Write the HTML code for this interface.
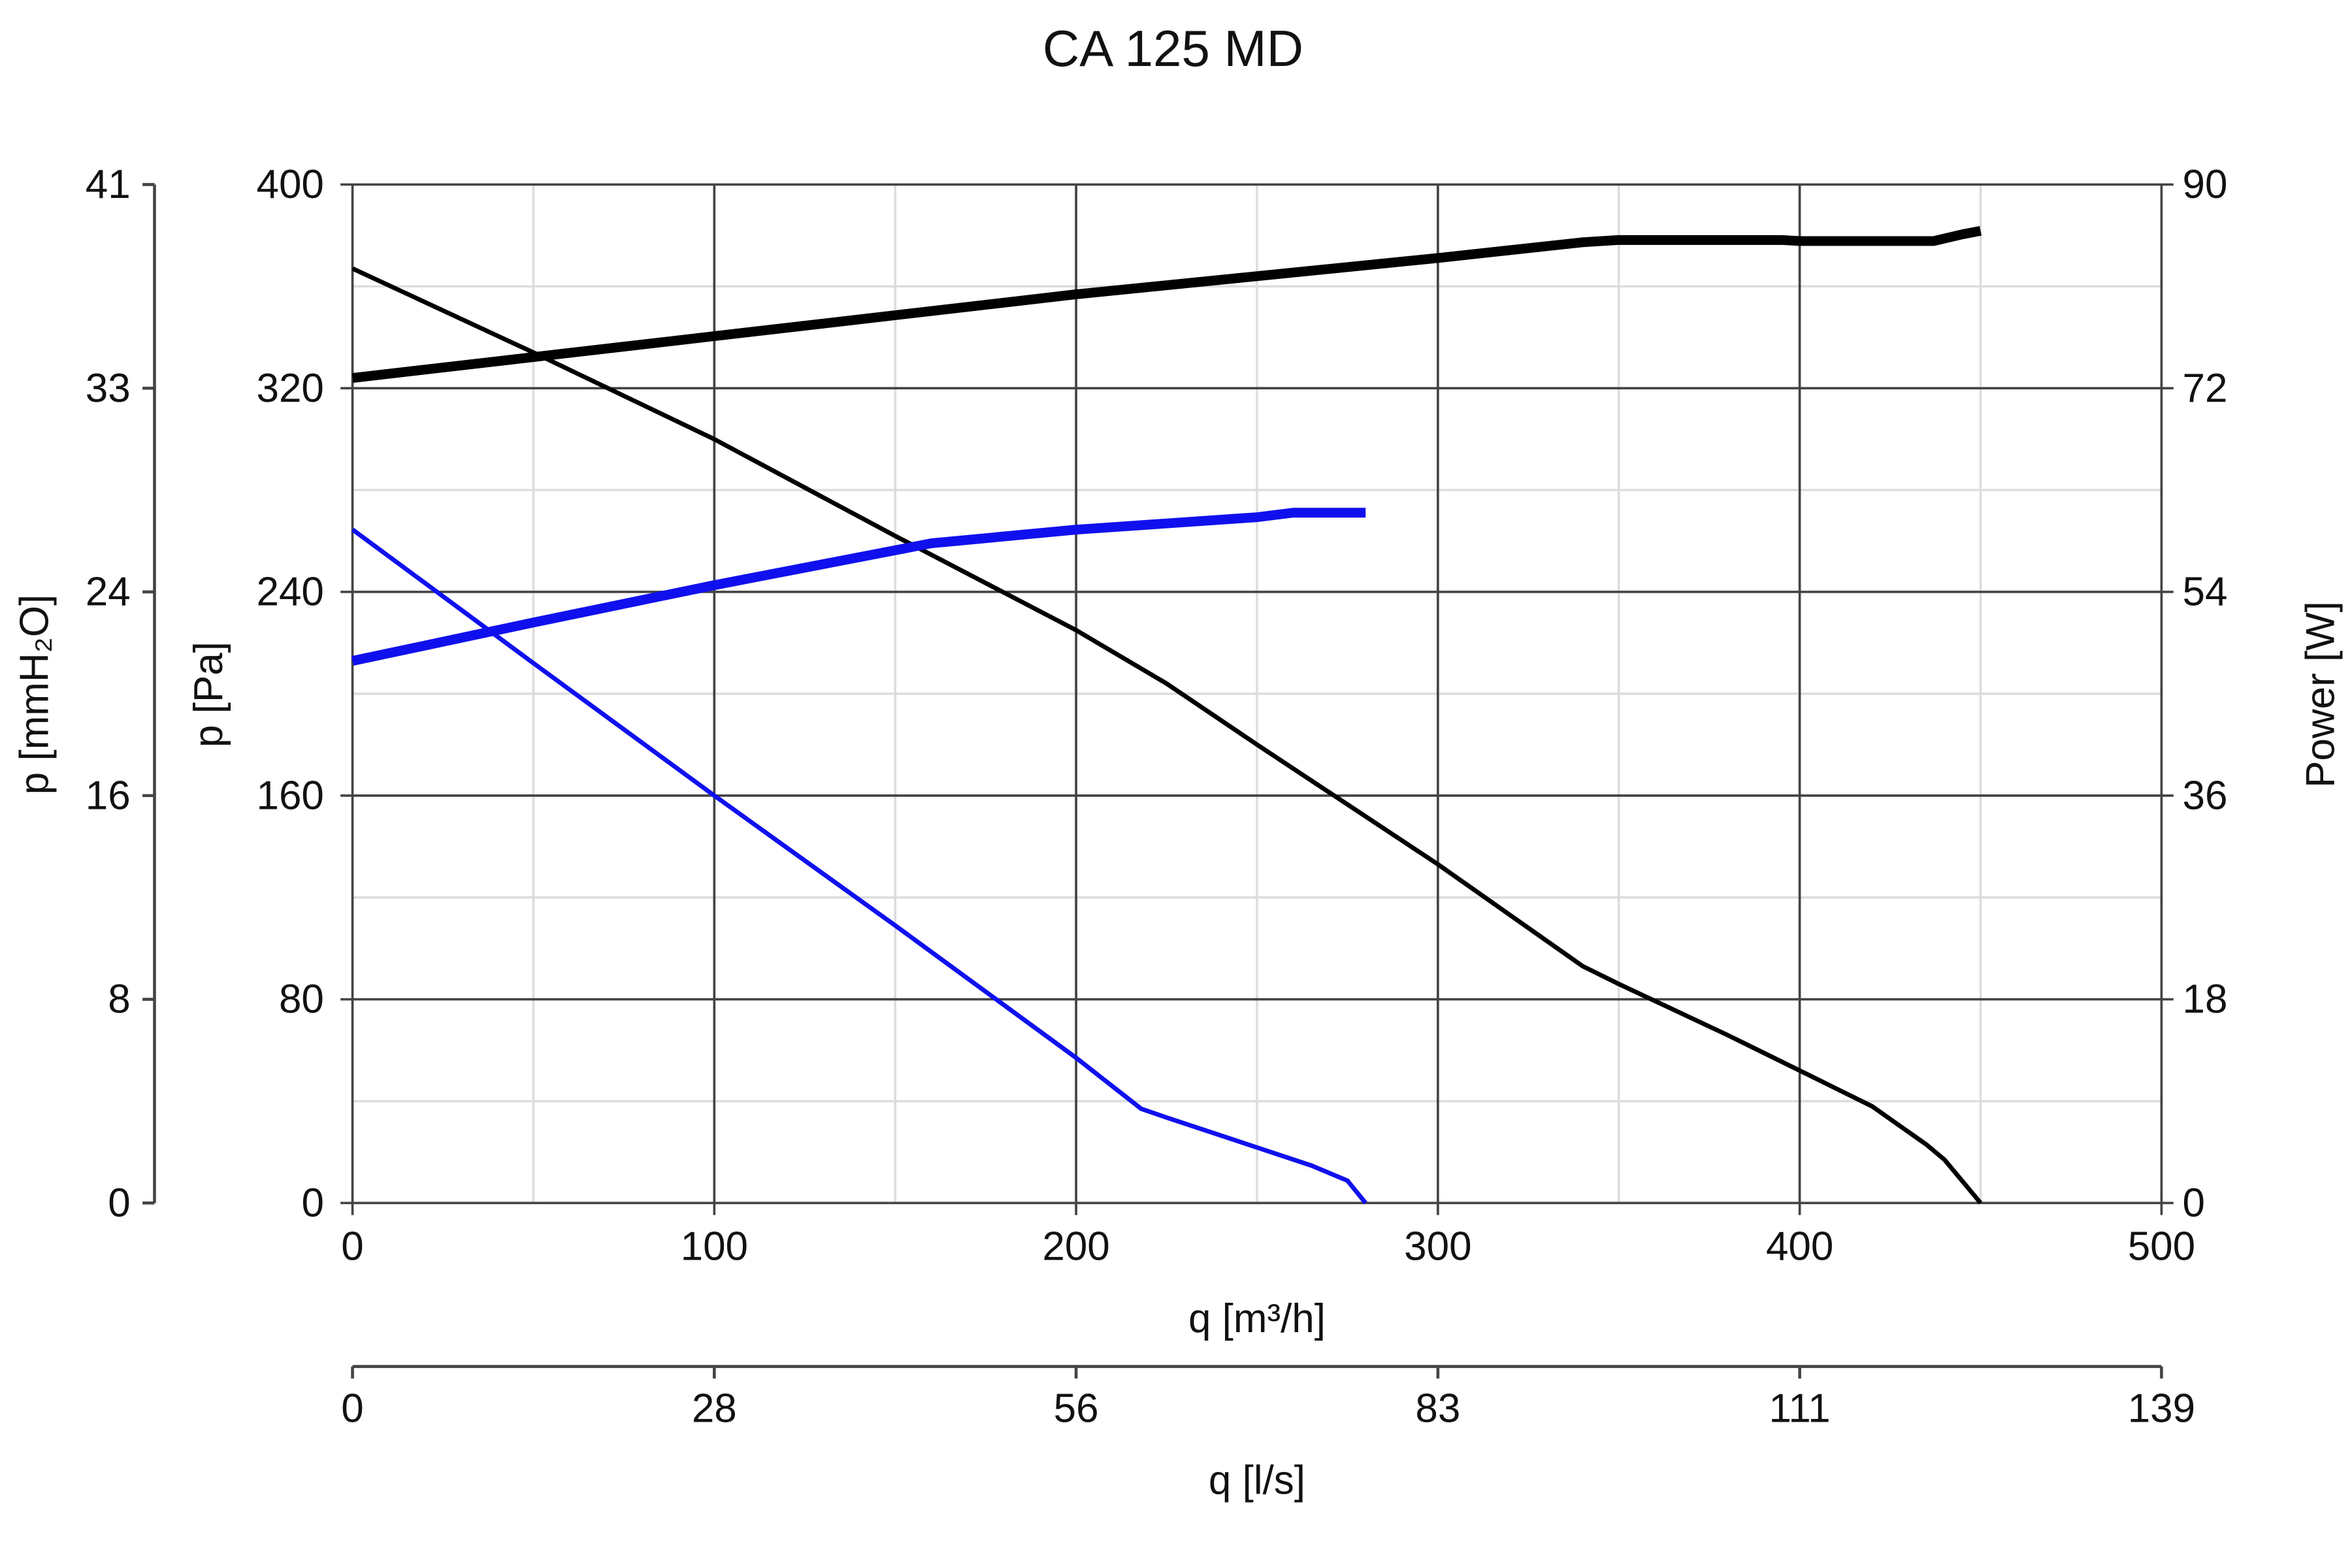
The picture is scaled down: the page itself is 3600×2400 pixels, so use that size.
<!DOCTYPE html>
<html><head><meta charset="utf-8"><style>
html,body{margin:0;padding:0;background:#fff}
svg{display:block}
text{font-family:"Liberation Sans",Arial,sans-serif;fill:#111}
</style></head><body>
<svg id="chart" width="3600" height="2400" viewBox="0 0 1568 1045.33" xmlns="http://www.w3.org/2000/svg">
<text x="782" y="44" font-size="34" text-anchor="middle">CA 125 MD</text>
<g id="grid"></g>
<g id="axes"></g>
<g id="series"></g>
<text x="838" y="888" font-size="27" text-anchor="middle">q [m³/h]</text>
<text x="838" y="996" font-size="27" text-anchor="middle">q [l/s]</text>
<text transform="translate(148,463) rotate(-90)" font-size="27" text-anchor="middle">p [Pa]</text>
<text transform="translate(32,463) rotate(-90)" font-size="27" text-anchor="middle">p [mmH₂O]</text>
<text transform="translate(1556,463) rotate(-90)" font-size="27" text-anchor="middle">Power [W]</text>
</svg>
<script>
const xTicks=[0,100,200,300,400,500];
const xMinor=[50,150,250,350,450];
const pTicks=[0,80,160,240,320,400];
const pMinor=[40,120,200,280,360];
const mmTicks=["0","8","16","24","33","41"];
const wTicks=["0","18","36","54","72","90"];
const lsTicks=["0","28","56","83","111","139"];
const blackPressQ=[0,50,100,150,200,225,250,300,340,350,380,400,420,435,440,450];
const blackPressP=[367,334,300,262,225,204,180,133,93,86,66,52,38,23,17,0];
const bluePressQ=[0,50,100,150,200,218,225,250,265,275,280];
const bluePressP=[264.5,212,160,109,57,37,33.6,21.8,14.7,8.8,0];
const blackPowQ=[0,100,200,300,340,350,395,400,437,445,450];
const blackPowW=[72.9,76.6,80.3,83.5,84.9,85.1,85.1,85.0,85.0,85.6,85.9];
const bluePowQ=[0,50,100,160,200,250,260,280];
const bluePowW=[47.9,51.3,54.6,58.3,59.5,60.6,61,61];

const L=235,R=1441,T=123,B=802;
const xs=q=>L+(R-L)*q/500;
const yp=p=>B-(B-T)*p/400;
const yw=w=>B-(B-T)*w/90;
const NS="http://www.w3.org/2000/svg";
function mk(tag,parent,attrs){const e=document.createElementNS(NS,tag);for(const k in attrs)e.setAttribute(k,attrs[k]);parent.appendChild(e);return e;}
const grid=document.getElementById('grid'),axes=document.getElementById('axes'),series=document.getElementById('series');
xMinor.forEach(q=>{const e=mk('line',grid,{x1:xs(q),x2:xs(q),y1:T,y2:B,stroke:'#dcdcdc','stroke-width':1.5});

});
pMinor.forEach(p=>{const e=mk('line',grid,{x1:L,x2:R,y1:yp(p),y2:yp(p),stroke:'#dcdcdc','stroke-width':1.5});

});
xTicks.forEach((q,i)=>{const e=mk('line',grid,{x1:xs(q),x2:xs(q),y1:T,y2:B+8,stroke:'#444','stroke-width':1.6});


const t=mk('text',axes,{x:xs(q),y:840,'font-size':27,'text-anchor':'middle'});t.textContent=q;


const tk=mk('line',axes,{x1:xs(q),x2:xs(q),y1:911,y2:919,stroke:'#444','stroke-width':2});


const t2=mk('text',axes,{x:xs(q),y:948,'font-size':27,'text-anchor':'middle'});t2.textContent=lsTicks[i];

});
pTicks.forEach((p,i)=>{const y=yp(p);
const e=mk('line',grid,{x1:L-8,x2:R+8,y1:y,y2:y,stroke:'#444','stroke-width':1.6});


const t=mk('text',axes,{x:216,y:y+9,'font-size':27,'text-anchor':'end'});t.textContent=p;


const t2=mk('text',axes,{x:1455,y:y+9,'font-size':27,'text-anchor':'start'});t2.textContent=wTicks[i];


const tk=mk('line',axes,{x1:95,x2:103,y1:y,y2:y,stroke:'#444','stroke-width':2});


const t3=mk('text',axes,{x:87,y:y+9,'font-size':27,'text-anchor':'end'});t3.textContent=mmTicks[i];

});
const a1=mk('line',axes,{x1:103,x2:103,y1:T,y2:B,stroke:'#444','stroke-width':2});


const a2=mk('line',axes,{x1:L,x2:R,y1:911,y2:911,stroke:'#444','stroke-width':2});


function path(qs,vs,yf,color,w,name){const d=qs.map((q,i)=>(i?'L':'M')+xs(q).toFixed(1)+','+yf(vs[i]).toFixed(1)).join(' ');
const e=mk('path',series,{d:d,fill:'none',stroke:color,'stroke-width':w,'stroke-linejoin':'round'});

}
path(blackPressQ,blackPressP,yp,'#000',3,'pressure-curve-black');
path(bluePressQ,bluePressP,yp,'#1010ee',3,'pressure-curve-blue');
path(blackPowQ,blackPowW,yw,'#000',6.5,'power-curve-black');
path(bluePowQ,bluePowW,yw,'#1010ee',6.5,'power-curve-blue');
</script>
</body></html>
